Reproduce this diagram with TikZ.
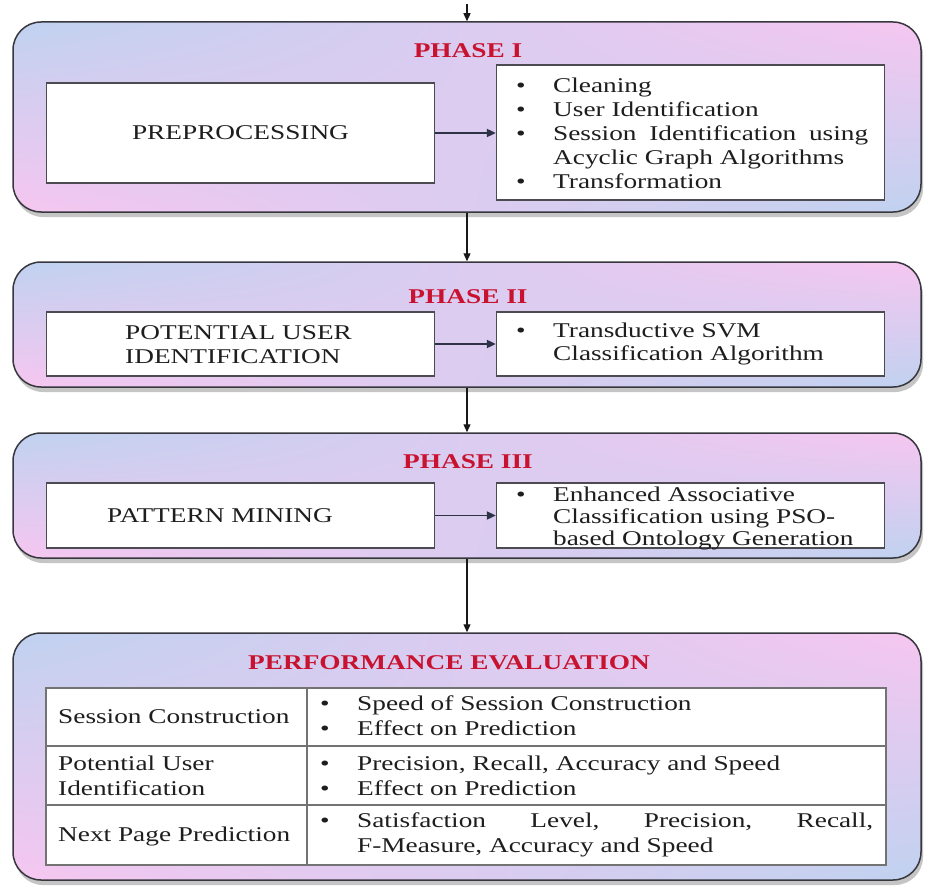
\documentclass[tikz,border=0pt]{standalone}
\usepackage{fontspec}
\setmainfont{Liberation Serif}[FakeStretch=1.3]
\usetikzlibrary{shadows,shadings,arrows.meta}
\definecolor{pblue}{RGB}{192,210,240}
\definecolor{ppink}{RGB}{246,198,240}
\definecolor{tred}{RGB}{200,18,48}
\definecolor{tgray}{RGB}{30,30,30}
\definecolor{bord}{RGB}{55,55,62}
\definecolor{arrc}{RGB}{45,50,70}
\newcommand\bul{\makebox[43pt][l]{\hspace{6pt}\textbullet}}
\newcommand\ind{\hspace*{43pt}}
\newcommand\bulT{\makebox[37pt][l]{\textbullet}}
\newcommand\indT{\hspace*{37pt}}
\tikzset{
  phase/.style={draw=bord, line width=1.5pt, rounded corners=28pt, minimum width=908pt,
    upper left=pblue, upper right=ppink, lower left=ppink, lower right=pblue,
    drop shadow={shadow xshift=2pt, shadow yshift=-5pt, fill=black!45}},
  inbox/.style={draw=bord!90, line width=1.3pt, fill=white, minimum width=388pt},
  txt/.style={inner sep=0pt, align=left, text=tgray, anchor=west,
    font=\fontsize{21}{23}\selectfont},
  ttxt/.style={txt, font=\fontsize{21}{25}\selectfont},
  ttl/.style={inner sep=0pt, text=tred, font=\fontsize{21}{23}\selectfont\bfseries},
  arr/.style={draw=black!90, line width=1.2pt, -{Triangle[length=8pt,width=7pt]}},
  harr/.style={draw=arrc, line width=1.8pt, -{Triangle[length=9pt,width=8pt]}}
}
\begin{document}
\begin{tikzpicture}[x=1pt,y=-1pt]
\useasboundingbox (0,0) rectangle (926,888);
\fill[white] (0,0) rectangle (926,888);

% phase containers
\node[phase, minimum height=190pt] (P1) at (467,117) {};
\node[phase, minimum height=125pt] (P2) at (467,324.5) {};
\node[phase, minimum height=125pt] (P3) at (467,495.5) {};
\node[phase, minimum height=247pt] (PE) at (467,756.5) {};

% titles
\node[ttl] (h1) at (468,51) {PHASE I};
\node[ttl] (h2) at (468,297) {PHASE II};
\node[ttl] (h3) at (468,462) {PHASE III};
\node[ttl] (h4) at (449,663) {PERFORMANCE EVALUATION};

% phase I
\node[inbox, minimum height=100pt] (A1) at (240.5,133) {};
\node[inbox, minimum height=135pt] (B1) at (690.5,132.5) {};
\node[txt, anchor=center] (tA1) at (240.5,133) {PREPROCESSING};
\node[txt, font=\fontsize{21}{24}\selectfont] (tB1) at (510,133) {\bul Cleaning\\\bul User Identification\\\bul\makebox[315pt][s]{Session\hfill Identification\hfill using}\\\ind Acyclic Graph Algorithms\\\bul Transformation};

% phase II
\node[inbox, minimum height=64pt] (A2) at (240.5,344) {};
\node[inbox, minimum height=64pt] (B2) at (690.5,344) {};
\node[txt, font=\fontsize{21}{24}\selectfont] (tA2) at (125,345) {POTENTIAL USER\\IDENTIFICATION};
\node[txt] (tB2) at (510,344) {\bul Transductive SVM\\\ind Classification Algorithm};

% phase III
\node[inbox, minimum height=65pt] (A3) at (240.5,515.5) {};
\node[inbox, minimum height=65pt] (B3) at (690.5,515.5) {};
\node[txt, anchor=center] (tA3) at (220,515.5) {PATTERN MINING};
\node[txt, font=\fontsize{21}{22}\selectfont] (tB3) at (510,518) {\bul Enhanced Associative\\\ind Classification using PSO-\\\ind based Ontology Generation};

% table
\node[draw=black!55, line width=1.3pt, fill=white, minimum width=840pt, minimum height=177pt, inner sep=0pt] (tbl) at (466,776.5) {};
\draw[black!55, line width=1.3pt] (46,746) -- (886,746);
\draw[black!55, line width=1.3pt] (46,805) -- (886,805);
\draw[black!55, line width=1.3pt] (307,688) -- (307,865);
\node[ttxt] (c11) at (58,717) {Session Construction};
\node[ttxt] (c12) at (320,716) {\bulT Speed of Session Construction\\\bulT Effect on Prediction};
\node[ttxt] (c21) at (58,776) {Potential User\\Identification};
\node[ttxt] (c22) at (320,776) {\bulT Precision, Recall, Accuracy and Speed\\\bulT Effect on Prediction};
\node[ttxt] (c31) at (58,836) {Next Page Prediction};
\node[ttxt] (c32) at (320,835) {\bulT\makebox[516pt][s]{Satisfaction\hfill Level,\hfill Precision,\hfill Recall,}\\\indT F-Measure, Accuracy and Speed};

% connectors
\coordinate (top) at (467,4);
\draw[arr] (top) -- (P1.north);
\draw[arr] (P1.south) -- (P2.north);
\draw[arr] (P2.south) -- (P3.north);
\draw[arr] (P3.south) -- (PE.north);
\draw[harr] (A1.east) -- (A1.east -| B1.west);
\draw[harr] (A2.east) -- (A2.east -| B2.west);
\draw[harr] (A3.east) -- (A3.east -| B3.west);
\end{tikzpicture}
\end{document}
